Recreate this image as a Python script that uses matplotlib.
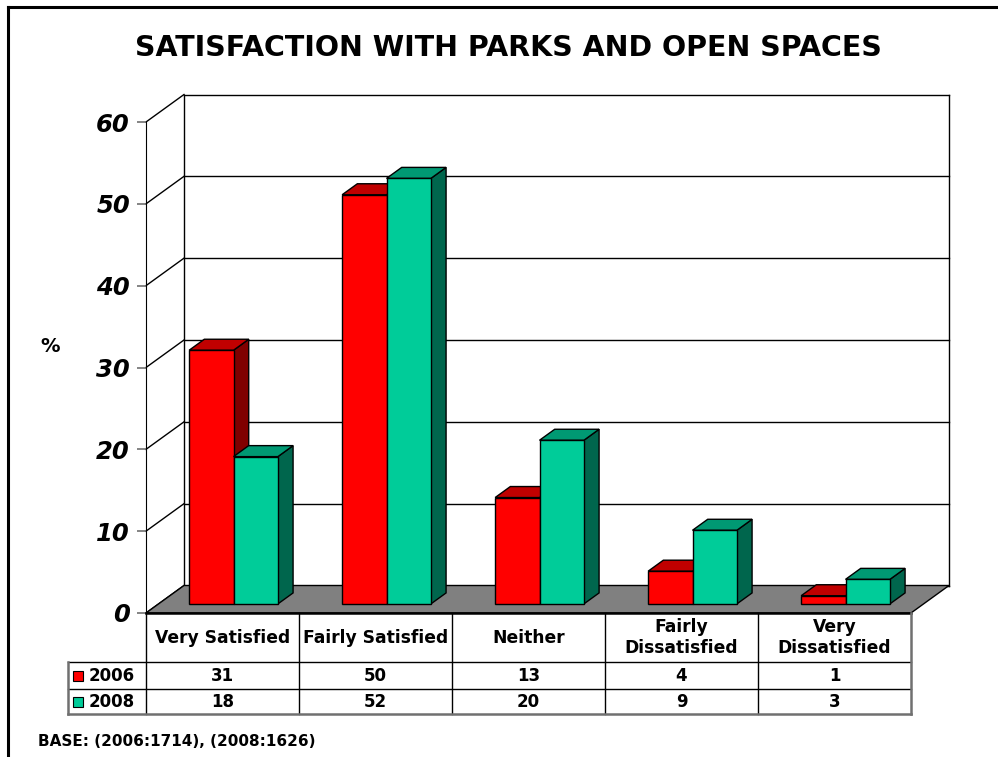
import matplotlib.pyplot as plt
from matplotlib.patches import Polygon, Rectangle
from matplotlib.lines import Line2D

categories = ['Very Satisfied', 'Fairly Satisfied', 'Neither',
              'Fairly\nDissatisfied', 'Very\nDissatisfied']
years = ['2006', '2008']
values_2006 = [31, 50, 13, 4, 1]
values_2008 = [18, 52, 20, 9, 3]
yticks = [0, 10, 20, 30, 40, 50, 60]

series = [values_2006, values_2008]
front_cols = ['#FF0000', '#00CC99']
top_cols = ['#C00000', '#009973']
side_cols = ['#800000', '#00664D']

W, H = 998, 757
fig = plt.figure(figsize=(W / 100, H / 100), dpi=100)
ax = fig.add_axes([146 / W, 1 - 613 / H, (911 - 146) / W, (613 - 122) / H])
ax.set_xlim(-0.5, 4.5)
ax.set_ylim(0, 60)

# depth of the fake 3D box, in data units
DX = 38 / 153
DY = 27.5 / (491 / 60)
f0, f1 = 0.33, 0.73

# back wall and side wall lines (behind everything)
wall_kw = dict(color='black', lw=1, clip_on=False, zorder=0.5)
for v in yticks:
    ax.plot([-0.5 + DX, 4.5 + DX], [v + DY, v + DY], **wall_kw)
    ax.plot([-0.5, -0.5 + DX], [v, v + DY], **wall_kw)
ax.plot([-0.5 + DX, -0.5 + DX], [DY, 60 + DY], **wall_kw)
ax.plot([4.5 + DX, 4.5 + DX], [DY, 60 + DY], **wall_kw)

# floor
ax.add_patch(Polygon([(-0.5, 0), (4.5, 0), (4.5 + DX, DY), (-0.5 + DX, DY)],
                     closed=True, facecolor='#808080', edgecolor='black', lw=1, clip_on=False))
ax.plot([-0.5, 4.5], [0, 0], color='black', lw=1.8, clip_on=False)

# bars
bar_w = 0.29
offsets = [-0.30, -0.01]
for i in range(len(categories)):
    for s, vals in enumerate(series):
        v = vals[i]
        L = i + offsets[s]
        R = L + bar_w
        ax0, ay0 = f0 * DX, f0 * DY
        bx, by = f1 * DX, f1 * DY
        kw = dict(closed=True, edgecolor='black', lw=1, clip_on=False, zorder=3)
        ax.add_patch(Polygon([(R + ax0, ay0), (R + bx, by), (R + bx, v + by), (R + ax0, v + ay0)],
                             facecolor=side_cols[s], **kw))
        ax.add_patch(Polygon([(L + ax0, v + ay0), (R + ax0, v + ay0), (R + bx, v + by), (L + bx, v + by)],
                             facecolor=top_cols[s], **kw))
        ax.add_patch(Polygon([(L + ax0, ay0), (R + ax0, ay0), (R + ax0, v + ay0), (L + ax0, v + ay0)],
                             facecolor=front_cols[s], **kw))

# axis styling
for sp in ['top', 'right', 'bottom']:
    ax.spines[sp].set_visible(False)
ax.spines['left'].set_color('black')
ax.set_xticks([])
ax.set_yticks(yticks)
ax.set_yticklabels([str(t) for t in yticks], fontsize=17.5, fontweight='bold', fontstyle='italic')
ax.tick_params(axis='y', length=6.5, width=1.2, color='#707070', pad=5)
ax.set_facecolor('none')

# data table below the floor
row_y = [0, -6.0, -9.3, -12.35]
leg_x = -1.01
grid_kw = dict(color='black', lw=1, clip_on=False)
out_kw = dict(color='#707070', lw=1.8, clip_on=False)
for yy in row_y[1:3]:
    ax.plot([leg_x, 4.5], [yy, yy], **grid_kw)
for k in range(6):
    xx = -0.5 + k
    ax.plot([xx, xx], [0, row_y[-1]], **(out_kw if k == 5 else grid_kw))
ax.plot([leg_x, leg_x], [row_y[1], row_y[-1]], **out_kw)
ax.plot([leg_x, 4.5], [row_y[-1], row_y[-1]], **out_kw)

for i, c in enumerate(categories):
    ax.text(i, (row_y[0] + row_y[1]) / 2, c, ha='center', va='center', fontsize=12.3,
            fontweight='bold', linespacing=1.15, clip_on=False)
for s, vals in enumerate(series):
    yc = (row_y[s + 1] + row_y[s + 2]) / 2
    for i, v in enumerate(vals):
        ax.text(i, yc, str(v), ha='center', va='center', fontsize=12, fontweight='bold')
    ax.add_patch(Rectangle((leg_x + 0.033, yc - 0.61), 0.065, 1.22, facecolor=front_cols[s],
                           edgecolor='black', lw=0.8, clip_on=False))
    ax.text(leg_x + 0.135, yc, years[s], ha='left', va='center', fontsize=12, fontweight='bold')

# titles and notes
fig.text(508.5 / W, 1 - 48 / H, 'SATISFACTION WITH PARKS AND OPEN SPACES',
         ha='center', va='center', fontsize=20.5, fontweight='bold')
fig.text(50 / W, 1 - 346 / H, '%', ha='center', va='center', fontsize=14, fontweight='bold')
fig.text(38 / W, 1 - 742 / H, 'BASE: (2006:1714), (2008:1626)', ha='left', va='center',
         fontsize=11, fontweight='bold')

# outer frame (left and top edges only visible)
fig.add_artist(Line2D([8 / W, 8 / W], [0, 1 - 7 / H], color='black', lw=2.2))
fig.add_artist(Line2D([8 / W, 1], [1 - 7 / H, 1 - 7 / H], color='black', lw=2.2))

fig.savefig('out.png', dpi=100)
